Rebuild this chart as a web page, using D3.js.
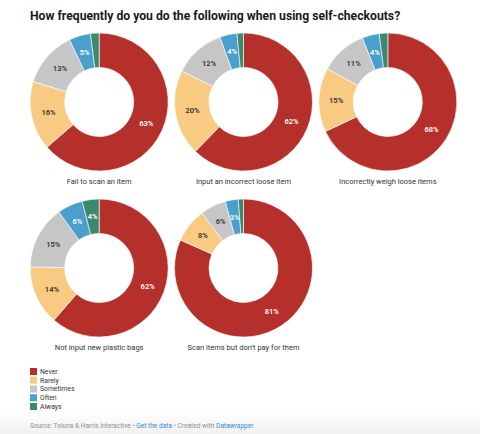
<!DOCTYPE html>
<html>
<head>
<meta charset="utf-8">
<script src="https://cdn.jsdelivr.net/npm/d3@7"></script>
<style>
  body { margin: 0; background: #fff; font-family: Roboto, "Noto Sans", sans-serif; }
  svg text { font-family: Roboto, "Noto Sans", sans-serif; }
</style>
</head>
<body>
<svg id="chart" width="480" height="434"></svg>
<script>
// answer categories, in drawing order (clockwise from 12 o'clock)
const categories = ["Never", "Rarely", "Sometimes", "Often", "Always"];
const colors = ["#b5302a", "#f8ca82", "#c6c6c6", "#4b9fcd", "#3b8a6c"];

// one donut per question
const questions = [
  "Fail to scan an item",
  "Input an incorrect loose item",
  "Incorrectly weigh loose items",
  "Not input new plastic bags",
  "Scan items but don’t pay for them"
];

// percentages per question, same order as categories
const failToScan = [63, 16, 13, 5, 2];
const inputIncorrect = [62, 20, 12, 4, 1.5];
const incorrectlyWeigh = [68, 15, 11, 4, 2];
const notInputBags = [62, 14, 15, 6, 4];
const scanNoPay = [81, 8, 6, 3, 1.2];

const seriesValues = [failToScan, inputIncorrect, incorrectlyWeigh, notInputBags, scanNoPay];

const svg = d3.select("#chart");
const width = 480;

svg.append("text")
  .attr("x", 30)
  .attr("y", 20)
  .attr("font-size", 12.2)
  .attr("font-weight", "bold")
  .attr("fill", "#1a1a1a")
  .text("How frequently do you do the following when using self-checkouts?");

// grid of small multiples
const cols = 3;
const colX = d3.scaleBand().domain(d3.range(cols)).range([27, 460]);
const outerR = 69;
const innerR = 34.5;

const color = d3.scaleOrdinal().domain(categories).range(colors);
const pie = d3.pie().sort(null).value(d => d.value);
const arc = d3.arc().innerRadius(innerR).outerRadius(outerR);
const labelArc = d3.arc().innerRadius((innerR + outerR) / 2).outerRadius((innerR + outerR) / 2);

const darkText = new Set(["Rarely", "Sometimes"]);

questions.forEach((q, i) => {
  const col = i % cols, row = Math.floor(i / cols);
  const cx = colX(col) + colX.bandwidth() / 2;
  const cy = row === 0 ? 102 : 268;

  const g = svg.append("g").attr("transform", `translate(${cx},${cy})`);
  const data = categories.map((c, j) => ({ cat: c, value: seriesValues[i][j] }));
  const arcs = pie(data);

  g.selectAll("path").data(arcs).join("path")
    .attr("d", arc)
    .attr("fill", d => color(d.data.cat))
    .attr("stroke", "#fff")
    .attr("stroke-width", 0.6);

  g.selectAll("text.val").data(arcs.filter(d => d.data.value >= 3)).join("text")
    .attr("class", "val")
    .attr("transform", d => `translate(${labelArc.centroid(d)})`)
    .attr("text-anchor", "middle")
    .attr("dy", "0.35em")
    .attr("font-size", 7.5)
    .attr("font-weight", 600)
    .attr("fill", d => darkText.has(d.data.cat) ? "#333" : "#fff")
    .text(d => Math.round(d.data.value) + "%");

  svg.append("text")
    .attr("x", cx)
    .attr("y", cy + outerR + 13)
    .attr("text-anchor", "middle")
    .attr("font-size", 7.5)
    .attr("fill", "#333")
    .text(q);
});

// legend
const legend = svg.append("g").attr("transform", "translate(30,368)");
const legendY = d3.scalePoint().domain(categories).range([0, 35]);
categories.forEach(c => {
  legend.append("rect")
    .attr("x", 0).attr("y", legendY(c))
    .attr("width", 7).attr("height", 7)
    .attr("fill", color(c));
  legend.append("text")
    .attr("x", 10).attr("y", legendY(c) + 3.5)
    .attr("dy", "0.35em")
    .attr("font-size", 6.8)
    .attr("fill", "#333")
    .text(c);
});

// footer
const grad = svg.append("defs").append("linearGradient")
  .attr("id", "foot").attr("x1", 0).attr("x2", 0).attr("y1", 0).attr("y2", 1);
grad.append("stop").attr("offset", "0%").attr("stop-color", "#fff");
grad.append("stop").attr("offset", "100%").attr("stop-color", "#f0f0f0");
svg.insert("rect", ":first-child")
  .attr("x", 0).attr("y", 412).attr("width", width).attr("height", 22)
  .attr("fill", "url(#foot)");

const foot = svg.append("text")
  .attr("x", 30).attr("y", 428)
  .attr("font-size", 6.6)
  .attr("fill", "#909090");
foot.append("tspan").text("Source: Toluna & Harris Interactive • ");
foot.append("tspan").attr("fill", "#3a8ac4").text("Get the data");
foot.append("tspan").text(" • Created with ");
foot.append("tspan").attr("fill", "#3a8ac4").text("Datawrapper");
</script>
</body>
</html>
